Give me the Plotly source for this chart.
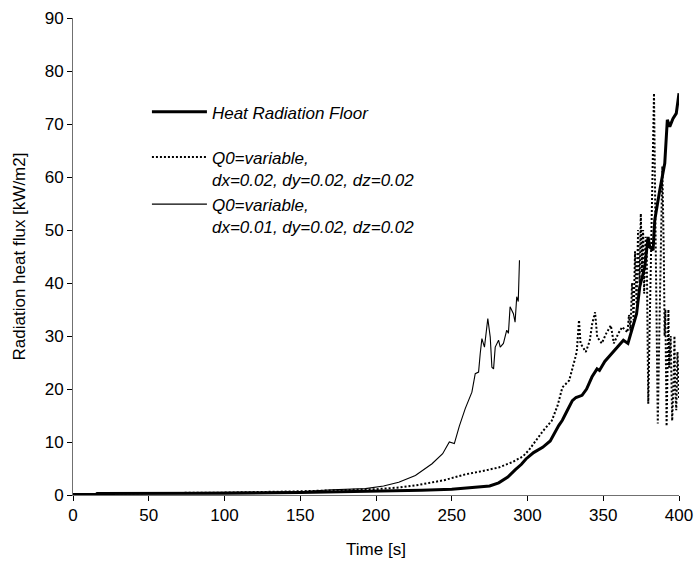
import plotly.graph_objects as go

# ---- data ----
floor_t = [0, 15, 16, 50, 100, 150, 175, 200, 215, 230, 250, 265, 275, 281, 287, 292,
           296, 299, 304, 310, 315, 320.6, 323, 326, 329.6, 332, 336, 339, 342.6, 345.9,
           347.5, 351, 354.5, 358, 363.3, 366.3, 369, 372, 374.1, 377.4, 379.6, 380.7,
           382.9, 384, 387.3, 390.6, 392.3, 393.9, 396, 398.2, 400]
floor_v = [0.1, 0.1, 0.3, 0.3, 0.35, 0.45, 0.55, 0.65, 0.75, 0.9, 1.1, 1.4, 1.7, 2.3, 3.4, 4.8,
           5.8, 6.8, 8.0, 9.0, 10.2, 13.1, 14.1, 15.8, 17.8, 18.4, 18.8, 20.0, 22.3, 23.8,
           23.5, 25.2, 26.4, 27.6, 29.2, 28.6, 31.5, 34.2, 39.3, 43.0, 48.7, 46.8,
           46.2, 51.9, 57.5, 62.6, 70.8, 69.5, 71.0, 72.0, 75.8]

d002_t = [0, 15, 16, 50, 100, 150, 175, 200, 215, 228, 245, 259, 270, 281, 290, 297, 301,
          305.5, 310, 316, 320, 323, 327.5, 330.8, 332.5, 334, 335, 338.5, 341, 342.7, 344.6,
          346, 349, 352, 355, 357, 360, 362.5, 366, 367, 368, 369, 370, 371, 372, 373, 374,
          374.8, 375.5, 376.3, 377, 378, 378.7, 379.7, 380.5, 381.3, 382.5, 383.5, 384.3,
          385, 386, 387, 388, 389, 390, 390.5, 391, 391.8, 392.5, 393, 393.5, 394.5, 395.5,
          396.5, 397, 397.5, 398.2, 399, 400]
d002_v = [0.1, 0.1, 0.3, 0.35, 0.45, 0.7, 0.9, 1.1, 1.4, 1.9, 2.8, 3.9, 4.5, 5.2, 6.2, 7.3, 8.5,
          10.2, 12.0, 14.0, 17.0, 20.3, 21.6, 25.1, 27.0, 33.0, 28.6, 27.0, 29.0, 32.3, 34.5,
          29.8, 28.6, 30.5, 32.0, 28.6, 30.5, 31.7, 30.7, 34.0, 31.0, 40.0, 33.0, 46.0, 36.0,
          50.0, 40.0, 53.1, 42.0, 50.0, 38.0, 48.7, 46.2, 17.2, 30.0, 39.7, 60.0, 75.8, 55.0,
          35.0, 13.5, 30.0, 50.0, 62.0, 45.0, 30.0, 35.0, 13.0, 25.0, 35.0, 24.0, 30.0, 14.0,
          22.0, 30.0, 20.0, 16.0, 27.0, 18.0]

d001_t = [0, 15, 16, 50, 100, 150, 171, 193, 205, 215, 226, 237, 244, 248.4, 251.7, 255,
          258.9, 262.2, 263.3, 265.5, 267.7, 268.8, 269.9, 271.6, 273.8, 275.4, 276.5,
          277.6, 278.7, 280.9, 282, 284.1, 286.3, 287.4, 288.5, 290.7, 291.8, 292.9, 293.9,
          294.7]
d001_v = [0.1, 0.1, 0.3, 0.35, 0.45, 0.6, 1.0, 1.2, 1.7, 2.4, 3.7, 5.9, 7.8, 10.0, 9.7, 13.0,
          16.3, 18.5, 19.4, 22.9, 23.2, 26.7, 29.5, 27.9, 33.3, 29.8, 24.1, 23.8, 27.9, 29.2,
          27.9, 28.6, 31.1, 30.5, 35.5, 34.2, 32.6, 37.4, 36.5, 44.3]

x_ticks = [0, 50, 100, 150, 200, 250, 300, 350, 400]
y_ticks = [0, 10, 20, 30, 40, 50, 60, 70, 80, 90]

FONT = "Liberation Sans, Arial, sans-serif"
FS = 17
AXIS_LINE = "#707070"

fig = go.Figure()
fig.add_trace(go.Scatter(x=floor_t, y=floor_v, mode="lines",
                         name="<i>Heat Radiation Floor</i>", legendgroup="a",
                         line=dict(color="black", width=3)))
fig.add_trace(go.Scatter(x=d002_t, y=d002_v, mode="lines",
                         name="<i>Q0=variable,<br>dx=0.02, dy=0.02, dz=0.02</i>", legendgroup="b",
                         line=dict(color="black", width=2, dash="2px,2px")))
fig.add_trace(go.Scatter(x=d001_t, y=d001_v, mode="lines",
                         name="<i>Q0=variable,<br>dx=0.01, dy=0.02, dz=0.02</i>", legendgroup="b",
                         line=dict(color="black", width=1.1)))

fig.update_layout(
    width=695, height=564,
    margin=dict(l=73, r=16, t=18, b=69),
    paper_bgcolor="white", plot_bgcolor="white",
    font=dict(family=FONT, size=FS, color="black"),
    showlegend=True,
    legend=dict(x=0.122, y=0.84, xanchor="left", yanchor="top",
                bgcolor="rgba(0,0,0,0)", borderwidth=0,
                font=dict(family=FONT, size=FS, color="black"),
                traceorder="grouped", tracegroupgap=20, valign="top",
                itemwidth=55),
    xaxis=dict(range=[0, 400], tickvals=x_ticks, ticks="outside", ticklen=5,
               tickcolor="black", showline=True, linecolor=AXIS_LINE, linewidth=1,
               showgrid=False, zeroline=False, automargin=False,
               ticklabeloverflow="allow",
               tickfont=dict(size=FS),
               title=dict(text="Time [s]", standoff=18, font=dict(size=FS))),
    yaxis=dict(range=[0, 90], tickvals=y_ticks, ticks="outside", ticklen=5,
               tickcolor="black", showline=True, linecolor=AXIS_LINE, linewidth=1,
               showgrid=False, zeroline=False, automargin=False,
               ticklabeloverflow="allow",
               tickfont=dict(size=FS),
               title=dict(text="Radiation heat flux [kW/m2]", standoff=14, font=dict(size=FS))),
)

fig.write_html("out.html")
